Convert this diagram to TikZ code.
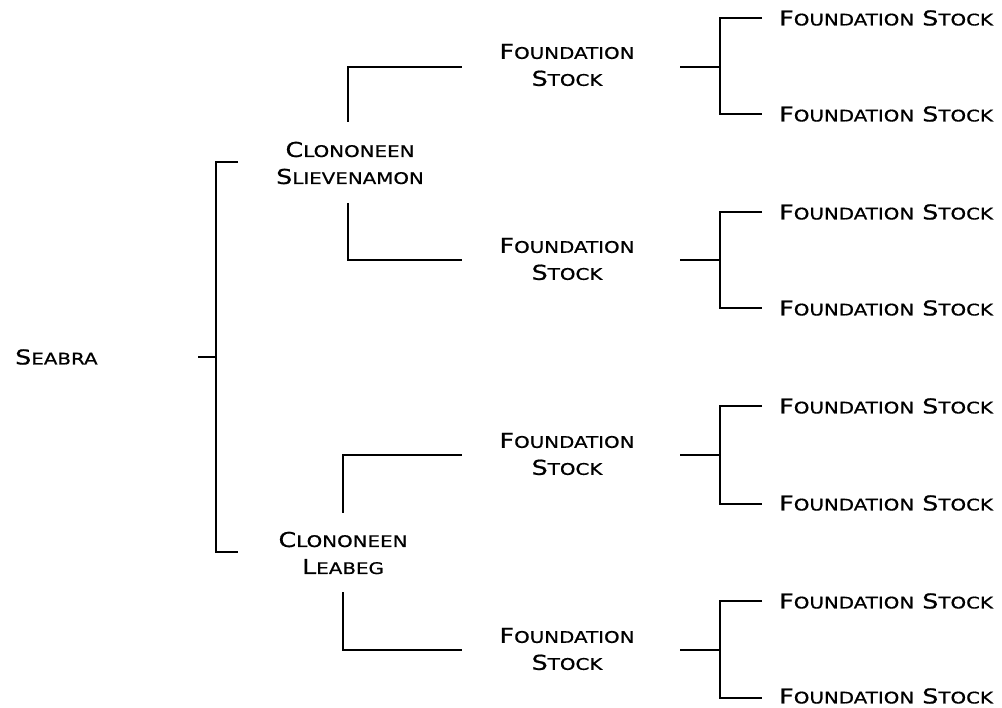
\documentclass[tikz,border=0pt]{standalone}
\usepackage{fontspec}
\newfontfamily\cpfont[FakeStretch=1.24,FakeBold=0.7]{DejaVu Sans}
\newcommand\sm[1]{{\fontsize{16}{16}\selectfont #1}}
\begin{document}
\begin{tikzpicture}[x=1pt,y=-1pt,
  lbl/.style={inner sep=0pt, font=\cpfont\fontsize{20.5}{27}\selectfont, align=center, text=black},
  lnk/.style={line width=2.7pt, line join=miter, line cap=butt}]
\useasboundingbox (0,0) rectangle (1002,708);
% labels
\node[lbl, anchor=west] (seabra) at (15,357) {S\sm{EABRA}};
\node[lbl] (cs) at (350,163) {C\sm{LONONEEN}\\S\sm{LIEVENAMON}};
\node[lbl] (cl) at (343,553) {C\sm{LONONEEN}\\L\sm{EABEG}};
\foreach \i/\y in {1/65,2/259,3/454,4/649}{
  \node[lbl] (f\i) at (567,\y) {F\sm{OUNDATION}\\S\sm{TOCK}};
}
\foreach \i/\y in {1/18,2/114,3/212,4/308,5/406,6/503,7/601,8/696}{
  \node[lbl, anchor=west] (r\i) at (779,\y) {F\sm{OUNDATION} S\sm{TOCK}};
}
% coordinates
\coordinate (s0) at (198,357);
\coordinate (j0) at (216,357);
\coordinate (ta) at (238,162);
\coordinate (ba) at (238,552);
\draw[lnk] (s0) -- (j0);
\draw[lnk] (ta) -- (216,162) -- (216,552) -- (ba);
% second level
\coordinate (cs1) at (348,122);
\coordinate (cs2) at (348,203);
\coordinate (cl1) at (343,513);
\coordinate (cl2) at (343,592);
\draw[lnk] (cs1) -- (348,67) -- (462,67);
\draw[lnk] (cs2) -- (348,260) -- (462,260);
\draw[lnk] (cl1) -- (343,455) -- (462,455);
\draw[lnk] (cl2) -- (343,650) -- (462,650);
% third level
\foreach \y/\a/\b in {67/18/114, 260/212/308, 455/406/504, 650/601/698}{
  \draw[lnk] (680,\y) -- (720,\y);
  \draw[lnk] (762,\a) -- (720,\a) -- (720,\b) -- (762,\b);
}
\end{tikzpicture}
\end{document}
